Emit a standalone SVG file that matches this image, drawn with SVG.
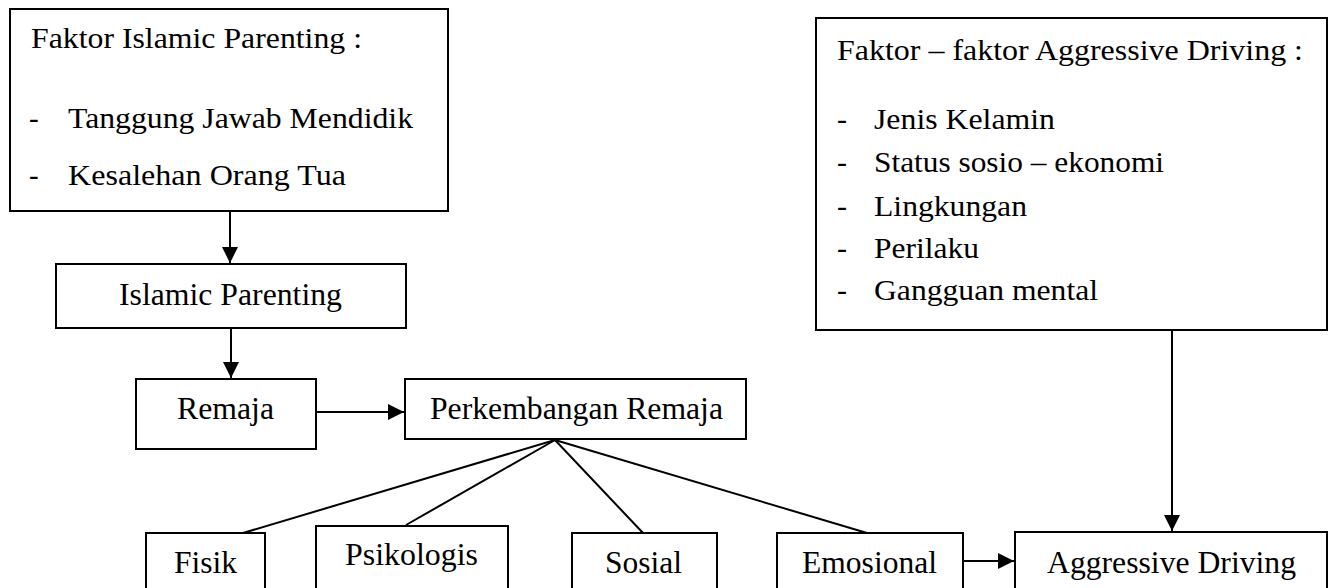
<svg xmlns="http://www.w3.org/2000/svg" width="1332" height="588" viewBox="0 0 1332 588">
<style>
.box{fill:#fff;stroke:#000;stroke-width:2}
.t{font-family:"Liberation Serif","Times New Roman",serif;fill:#000;lengthAdjust:spacingAndGlyphs}
.s29{font-size:29px}
.s30{font-size:30px}
.s31{font-size:31px}
.c{stroke:#000;stroke-width:2;fill:none}
</style>
<defs>
<marker id="arr" viewBox="0 0 16 16" refX="16" refY="8" markerWidth="16" markerHeight="16" markerUnits="userSpaceOnUse" orient="auto">
<path d="M0,0 L16,8 L0,16 Z" fill="#000"/>
</marker>
</defs>
<rect width="1332" height="588" fill="#fff"/>
<g id="connectors">
<line class="c" x1="230" y1="212" x2="230" y2="263" marker-end="url(#arr)"/>
<line class="c" x1="231" y1="328" x2="231" y2="378" marker-end="url(#arr)"/>
<line class="c" x1="316" y1="412" x2="404" y2="412" marker-end="url(#arr)"/>
<line class="c" x1="555" y1="440" x2="243" y2="533"/>
<line class="c" x1="555" y1="440" x2="406" y2="525"/>
<line class="c" x1="555" y1="440" x2="643" y2="533"/>
<line class="c" x1="555" y1="440" x2="867" y2="533"/>
<line class="c" x1="963" y1="561" x2="1014" y2="561" marker-end="url(#arr)"/>
<line class="c" x1="1172" y1="330" x2="1172" y2="531" marker-end="url(#arr)"/>
</g>
<g id="faktor-islamic-parenting">
<rect class="box" x="10" y="9" width="438" height="202"/>
<text class="t s29" x="31" y="48" textLength="331" lengthAdjust="spacingAndGlyphs">Faktor Islamic Parenting :</text>
<text class="t s29" x="29" y="128">-</text>
<text class="t s29" x="68" y="128" textLength="345" lengthAdjust="spacingAndGlyphs">Tanggung Jawab Mendidik</text>
<text class="t s29" x="29" y="185">-</text>
<text class="t s29" x="68" y="185" textLength="278" lengthAdjust="spacingAndGlyphs">Kesalehan Orang Tua</text>
</g>
<g id="faktor-aggressive-driving">
<rect class="box" x="816" y="18" width="511" height="312"/>
<text class="t s30" x="837" y="60" textLength="466" lengthAdjust="spacingAndGlyphs">Faktor – faktor Aggressive Driving :</text>
<text class="t s30" x="837" y="129">-</text>
<text class="t s30" x="874" y="129" textLength="181" lengthAdjust="spacingAndGlyphs">Jenis Kelamin</text>
<text class="t s30" x="837" y="172">-</text>
<text class="t s30" x="874" y="172" textLength="290" lengthAdjust="spacingAndGlyphs">Status sosio – ekonomi</text>
<text class="t s30" x="837" y="216">-</text>
<text class="t s30" x="874" y="216" textLength="153" lengthAdjust="spacingAndGlyphs">Lingkungan</text>
<text class="t s30" x="837" y="258">-</text>
<text class="t s30" x="874" y="258" textLength="105" lengthAdjust="spacingAndGlyphs">Perilaku</text>
<text class="t s30" x="837" y="300">-</text>
<text class="t s30" x="874" y="300" textLength="224" lengthAdjust="spacingAndGlyphs">Gangguan mental</text>
</g>
<g id="islamic-parenting">
<rect class="box" x="56" y="264" width="350" height="64"/>
<text class="t s31" x="119" y="305" textLength="223" lengthAdjust="spacingAndGlyphs">Islamic Parenting</text>
</g>
<g id="remaja">
<rect class="box" x="136" y="379" width="180" height="70"/>
<text class="t s31" x="177" y="419" textLength="97" lengthAdjust="spacingAndGlyphs">Remaja</text>
</g>
<g id="perkembangan-remaja">
<rect class="box" x="405" y="379" width="341" height="60"/>
<text class="t s31" x="430" y="419" textLength="293" lengthAdjust="spacingAndGlyphs">Perkembangan Remaja</text>
</g>
<g id="fisik">
<rect class="box" x="146" y="533" width="119" height="70"/>
<text class="t s31" x="174" y="573" textLength="63" lengthAdjust="spacingAndGlyphs">Fisik</text>
</g>
<g id="psikologis">
<rect class="box" x="316" y="526" width="192" height="77"/>
<text class="t s31" x="345" y="565" textLength="133" lengthAdjust="spacingAndGlyphs">Psikologis</text>
</g>
<g id="sosial">
<rect class="box" x="572" y="533" width="145" height="70"/>
<text class="t s31" x="605" y="573" textLength="77" lengthAdjust="spacingAndGlyphs">Sosial</text>
</g>
<g id="emosional">
<rect class="box" x="777" y="533" width="186" height="70"/>
<text class="t s31" x="802" y="573" textLength="135" lengthAdjust="spacingAndGlyphs">Emosional</text>
</g>
<g id="aggressive-driving">
<rect class="box" x="1015" y="532" width="312" height="71"/>
<text class="t s31" x="1047" y="573" textLength="249" lengthAdjust="spacingAndGlyphs">Aggressive Driving</text>
</g>
</svg>
